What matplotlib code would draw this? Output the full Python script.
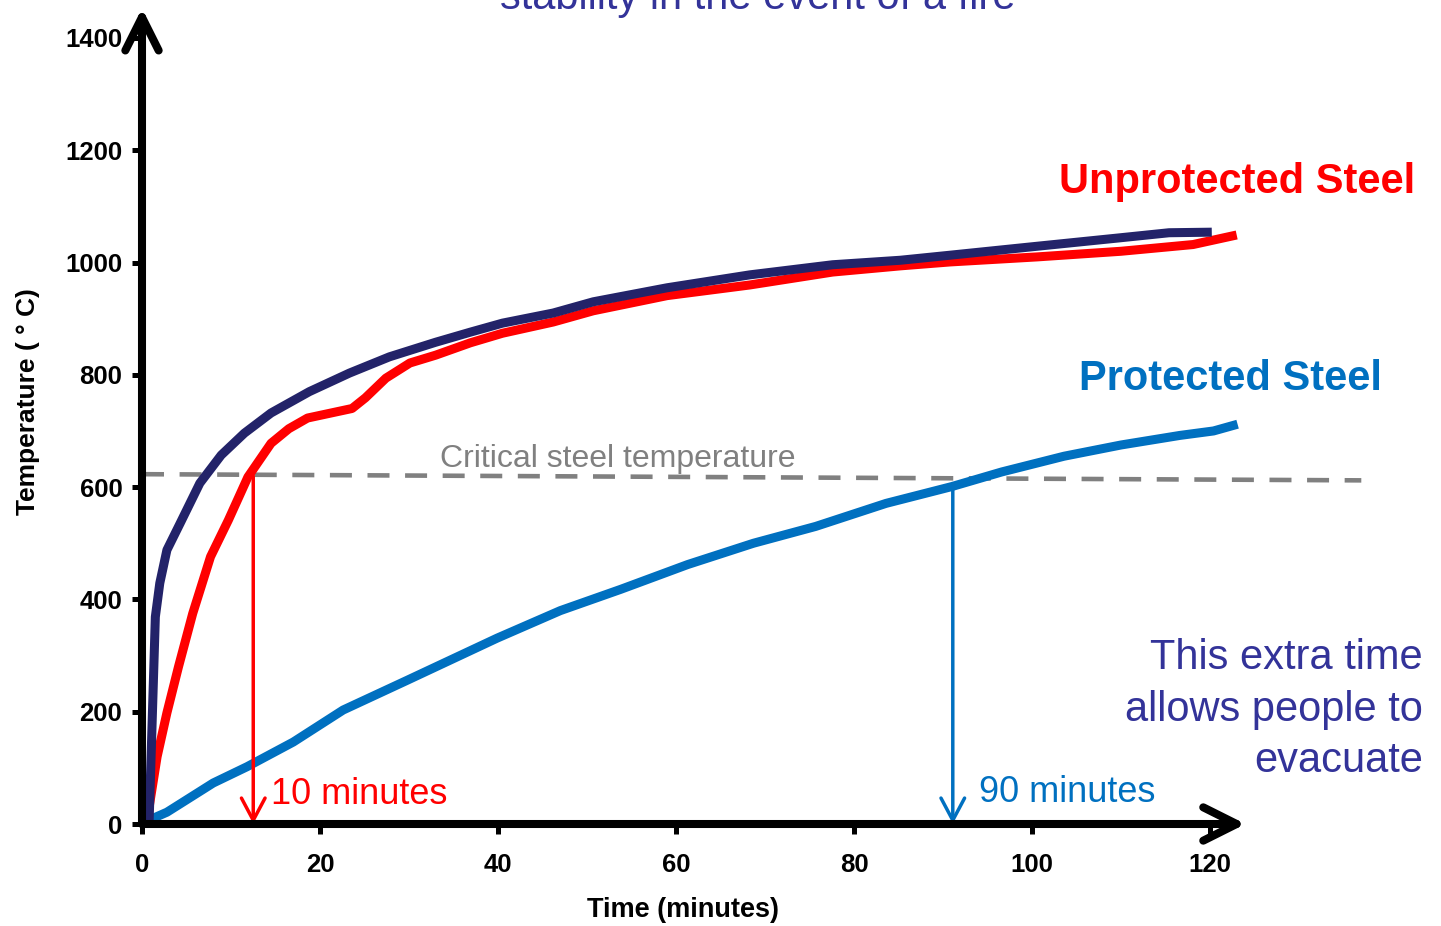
import matplotlib
matplotlib.use('Agg')
import matplotlib.pyplot as plt

plt.rcParams['font.family'] = ['Liberation Sans', 'DejaVu Sans']

# ---------------- data ----------------
fire_time = [0.8, 1.5, 2.0, 2.8, 4.3, 6.5, 8.9, 11.5, 14.5, 18.8, 23.3, 27.8, 33.0,
             36.9, 40.5, 46.2, 50.7, 59.0, 68.3, 77.6, 85.2, 90.8, 100.0, 109.9,
             115.4, 120.2]
fire_temp = [5, 369, 429, 488, 536, 607, 657, 696, 732, 770, 803, 832, 858,
             876, 892, 910, 930, 955, 978, 996, 1004, 1013, 1028, 1044,
             1053, 1054]

unprot_time = [0.5, 1.7, 2.8, 4.1, 5.7, 7.7, 9.7, 11.9, 14.5, 16.5, 18.6, 23.6,
               25.1, 27.4, 30.1, 33.0, 36.9, 40.5, 46.2, 50.7, 59.0, 68.3, 77.6,
               85.2, 90.8, 100.6, 110.0, 118.1, 123.0]
unprot_temp = [0, 120, 198, 280, 375, 476, 541, 618, 678, 704, 723, 740,
               759, 794, 821, 835, 857, 874, 894, 914, 941, 960, 983,
               994, 1001, 1010, 1020, 1032, 1049]

prot_time = [0.5, 2.8, 8.0, 11.8, 17.0, 22.6, 29.8, 39.9, 47.0, 53.8, 61.3, 68.7,
             75.7, 83.6, 91.0, 96.6, 103.6, 110.0, 116.6, 120.4, 123.1]
prot_temp = [5, 21, 73, 102, 146, 203, 256, 331, 380, 418, 462, 500,
             530, 571, 601, 627, 655, 675, 692, 700, 712]

crit_x = [0, 137]
crit_y = [623, 612]

unprot_fail_time = 12.5
unprot_fail_temp = 620
prot_fail_time = 91.1
prot_fail_temp = 604

x_ticks = [0, 20, 40, 60, 80, 100, 120]
y_ticks = [0, 200, 400, 600, 800, 1000, 1200, 1400]

# ---------------- colours ----------------
RED = '#FF0000'
NAVY = '#232369'
BLUE = '#0070C0'
GREY = '#808080'
PURPLE = '#333399'

W, H = 1441, 926
fig = plt.figure(figsize=(W / 100, H / 100), dpi=100)

x0_px, y0_px = 142, 824
px_per_min = 8.9
px_per_deg = 0.5615
xmax, ymax = 137, 1460
ax = fig.add_axes([x0_px / W, (H - y0_px) / H,
                   xmax * px_per_min / W, ymax * px_per_deg / H])
ax.set_xlim(0, xmax)
ax.set_ylim(0, ymax)
for s in ax.spines.values():
    s.set_visible(False)

# critical temperature dashed line
ax.plot(crit_x, crit_y, color=GREY, lw=3.3, dashes=(4.8, 3.4), clip_on=False,
        solid_capstyle='butt', dash_capstyle='butt')

# curves
ax.plot(unprot_time, unprot_temp, color=RED, lw=6.5, clip_on=False,
        solid_joinstyle='round', solid_capstyle='butt', zorder=3)
ax.plot(fire_time, fire_temp, color=NAVY, lw=6.5, clip_on=False,
        solid_joinstyle='round', solid_capstyle='butt', zorder=4)
ax.plot(prot_time, prot_temp, color=BLUE, lw=6.5, clip_on=False,
        solid_joinstyle='round', solid_capstyle='butt', zorder=3)

# drop arrows
ax.annotate('', xy=(unprot_fail_time, 0), xytext=(unprot_fail_time, unprot_fail_temp),
            arrowprops=dict(arrowstyle='->,head_length=1.6,head_width=0.85',
                            color=RED, lw=2.5, shrinkA=0, shrinkB=0,
                            mutation_scale=10), annotation_clip=False, zorder=5)
ax.annotate('', xy=(prot_fail_time, 0), xytext=(prot_fail_time, prot_fail_temp),
            arrowprops=dict(arrowstyle='->,head_length=1.6,head_width=0.85',
                            color=BLUE, lw=2.5, shrinkA=0, shrinkB=0,
                            mutation_scale=10), annotation_clip=False, zorder=5)

# axis arrows
ax.annotate('', xy=(0, 1453), xytext=(0, 0),
            arrowprops=dict(arrowstyle='->,head_length=2.4,head_width=1.2',
                            color='black', lw=5.8, shrinkA=0, shrinkB=0,
                            mutation_scale=10), annotation_clip=False, zorder=6)
ax.annotate('', xy=(124.0, 0), xytext=(0, 0),
            arrowprops=dict(arrowstyle='->,head_length=2.4,head_width=1.2',
                            color='black', lw=5.8, shrinkA=0, shrinkB=0,
                            mutation_scale=10), annotation_clip=False, zorder=6)

# ticks
ax.set_xticks(x_ticks)
ax.set_yticks(y_ticks)
ax.set_xticklabels([str(v) for v in x_ticks])
ax.set_yticklabels([str(v) for v in y_ticks])
ax.tick_params(axis='both', direction='out', length=7.2, width=3.6, color='black',
               labelsize=18.5)
ax.tick_params(axis='x', pad=14)
ax.tick_params(axis='y', pad=7)
for lab in ax.get_xticklabels() + ax.get_yticklabels():
    lab.set_fontweight('bold')

ax.set_xlabel('Time (minutes)', fontsize=19.5, fontweight='bold')
ax.xaxis.set_label_coords((683 - x0_px) / (xmax * px_per_min),
                          -(910 - y0_px) / (ymax * px_per_deg))
ax.xaxis.label.set_va('center')
ax.set_ylabel('Temperature ( ° C)', fontsize=19, fontweight='bold')
ax.yaxis.set_label_coords((28 - x0_px) / (xmax * px_per_min),
                          (y0_px - 402) / (ymax * px_per_deg))
ax.yaxis.label.set_va('center')

# annotations
ax.text(123.0, 1124, 'Unprotected Steel', color=RED, fontsize=30, fontweight='bold',
        ha='center', va='baseline')
ax.text(122.3, 773, 'Protected Steel', color=BLUE, fontsize=30, fontweight='bold',
        ha='center', va='baseline')
ax.text(53.5, 636, 'Critical steel temperature', color=GREY, fontsize=23,
        ha='center', va='baseline')
ax.text(24.4, 35.6, '10 minutes', color=RED, fontsize=26, ha='center', va='baseline')
ax.text(104.0, 39, '90 minutes', color=BLUE, fontsize=26, ha='center', va='baseline')
ax.text(143.9, 92.6, 'This extra time\nallows people to\nevacuate', color=PURPLE,
        fontsize=30, ha='right', va='baseline', multialignment='right',
        linespacing=1.37)

fig.text(758 / W, (H - 9) / H, 'stability in the event of a fire', color=PURPLE,
         fontsize=30, ha='center', va='baseline')

fig.savefig('out.png', dpi=100)
